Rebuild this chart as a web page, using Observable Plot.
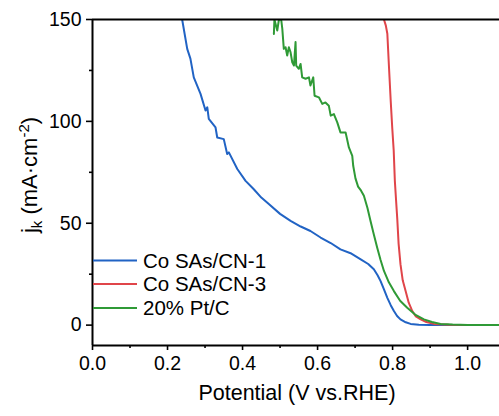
<!DOCTYPE html>
<html>
<head>
<meta charset="utf-8">
<script src="https://cdn.jsdelivr.net/npm/d3@7"></script>
<script src="https://cdn.jsdelivr.net/npm/@observablehq/plot@0.6"></script>
<style>
  html, body { margin: 0; padding: 0; background: #fff; }
  #chart { width: 499px; height: 416px; }
</style>
</head>
<body>
<div id="chart"></div>
<script>
// Series names and colours
const seriesNames = ["Co SAs/CN-1", "Co SAs/CN-3", "20% Pt/C"];
const seriesColors = ["#2163c4", "#e0454a", "#2f9a36"];

// Co SAs/CN-1: [potential V, jk mA/cm2]
const cn1 = [
  [0.239,150],[0.2525,135.6],[0.261,130.8],[0.270,121.6],[0.288,113.5],[0.3013,105.3],
  [0.306,106.9],[0.310,101.2],[0.328,97.0],[0.3325,92.1],[0.350,91.3],[0.359,84.0],
  [0.3635,84.8],[0.386,76.6],[0.408,70.8],[0.430,66.7],[0.450,62.6],[0.470,59.4],
  [0.500,54.6],[0.528,51.2],[0.555,48.4],[0.581,46.2],[0.608,43.0],[0.635,40.3],
  [0.661,37.2],[0.688,35.3],[0.715,32.3],[0.735,30.0],[0.750,27.4],[0.760,24.5],
  [0.768,21.6],[0.777,17.5],[0.786,13.4],[0.795,9.8],[0.8035,6.9],[0.812,4.5],
  [0.821,2.8],[0.835,1.4],[0.848,0.6],[0.870,0.2],[0.900,0.05],[1.085,0]
];

// Co SAs/CN-3
const cn3 = [
  [0.777,150],[0.782,147],[0.786,143],[0.790,128],[0.795,110],[0.799,97],[0.803,85.6],
  [0.806,70.8],[0.809,62],[0.8125,52],[0.816,40],[0.821,29.9],[0.827,22],[0.8347,16.7],
  [0.843,11],[0.8525,6.9],[0.862,4.3],[0.875,2.8],[0.890,1.5],[0.910,0.6],[0.950,0.2],[1.085,0]
];

// 20% Pt/C
const ptc = [
  [0.4835,142.9],[0.485,150],[0.4925,144.6],[0.497,150],[0.503,150],[0.506,145.4],
  [0.510,135.6],[0.5147,136.4],[0.519,132.3],[0.5235,136.4],[0.528,133.9],[0.5325,129.0],
  [0.537,127.4],[0.5413,138.9],[0.543,127.4],[0.550,125.8],[0.5547,128.2],[0.559,121.6],
  [0.568,120.9],[0.577,121.6],[0.581,117.6],[0.5885,121.6],[0.592,112.6],[0.6035,111.8],
  [0.6125,108.6],[0.621,109.3],[0.630,107.7],[0.635,102.8],[0.6435,103.6],[0.6525,99.5],
  [0.661,94.6],[0.6747,94.6],[0.6835,87.2],[0.6925,83.1],[0.695,78.2],[0.701,72],
  [0.708,68],[0.716,66],[0.7235,63.5],[0.733,57.5],[0.741,51.2],[0.750,44.5],[0.759,38.0],
  [0.768,32],[0.777,26.6],[0.790,21],[0.8035,16.7],[0.820,12],[0.839,8.5],[0.860,5.2],
  [0.8835,2.8],[0.905,1.5],[0.928,0.6],[0.960,0.3],[1.000,0.1],[1.085,0]
];

// Tick values
const xMajor = [0, 0.2, 0.4, 0.6, 0.8, 1.0];
const xMinor = [0.1, 0.3, 0.5, 0.7, 0.9];
const yMajor = [0, 50, 100, 150];
const yMinor = [25, 75, 125];

const allSeries = [cn1, cn3, ptc];
const data = allSeries.flatMap((s, i) => s.map(([v, j]) => ({v, j, name: seriesNames[i]})));

const font = "'Liberation Sans', Arial, sans-serif";

const chart = Plot.plot({
  width: 499,
  height: 416,
  marginLeft: 92,
  marginRight: 0,
  marginTop: 19,
  marginBottom: 71,
  style: {fontFamily: font, fontSize: "19.5px", color: "#000", background: "#fff"},
  x: {domain: [0, 1.085]},
  y: {domain: [-10, 150]},
  color: {domain: seriesNames, range: seriesColors},
  marks: [
    Plot.axisX({ticks: xMajor, tickSize: 5, tickPadding: 6, tickFormat: d => d.toFixed(1), label: null, strokeWidth: 1.6}),
    Plot.axisX({ticks: xMinor, tickSize: 3, tickFormat: () => "", label: null, strokeWidth: 1.6}),
    Plot.axisY({ticks: yMajor, tickSize: 6, tickPadding: 5, label: null, strokeWidth: 1.6}),
    Plot.axisY({ticks: yMinor, tickSize: 3, tickFormat: () => "", label: null, strokeWidth: 1.6}),
    Plot.line(data, {x: "v", y: "j", z: "name", stroke: "name", strokeWidth: 2, clip: true}),
    Plot.ruleX([0], {stroke: "#000", strokeWidth: 2}),
    Plot.ruleY([-10], {stroke: "#000", strokeWidth: 2}),
    Plot.ruleY([150], {stroke: "#000", strokeWidth: 2.2})
  ]
});

document.getElementById("chart").appendChild(chart);

const svg = d3.select(chart);

// Enlarge tick labels to match the reference
svg.selectAll('g[aria-label$="tick label"]').style("font-size", "19.5px").style("font-family", font);
svg.selectAll('g[aria-label$="tick label"] text').style("font-size", "19.5px");

// Axis titles
svg.append("text")
  .attr("x", 297).attr("y", 400)
  .attr("text-anchor", "middle")
  .style("font-family", font).style("font-size", "21.5px").attr("fill", "#000")
  .text("Potential (V vs.RHE)");

const yt = svg.append("text")
  .attr("transform", "translate(37,175) rotate(-90)")
  .attr("text-anchor", "middle")
  .style("font-family", font).style("font-size", "22px").attr("fill", "#000");
yt.append("tspan").text("j");
yt.append("tspan").attr("dy", "5").style("font-size", "15px").text("k");
yt.append("tspan").attr("dy", "-5").text(" (mA·cm");
yt.append("tspan").attr("dy", "-8").style("font-size", "15px").text("-2");
yt.append("tspan").attr("dy", "8").text(")");

// Legend
const rows = [260.5, 284, 308];
seriesNames.forEach((name, i) => {
  svg.append("line")
    .attr("x1", 93).attr("x2", 137).attr("y1", rows[i]).attr("y2", rows[i])
    .attr("stroke", seriesColors[i]).attr("stroke-width", 2);
  svg.append("text")
    .attr("x", 143).attr("y", rows[i]).attr("dy", "0.36em")
    .attr("text-anchor", "start")
    .style("font-family", font).style("font-size", "20.5px").attr("fill", "#000")
    .text(name);
});
</script>
</body>
</html>
